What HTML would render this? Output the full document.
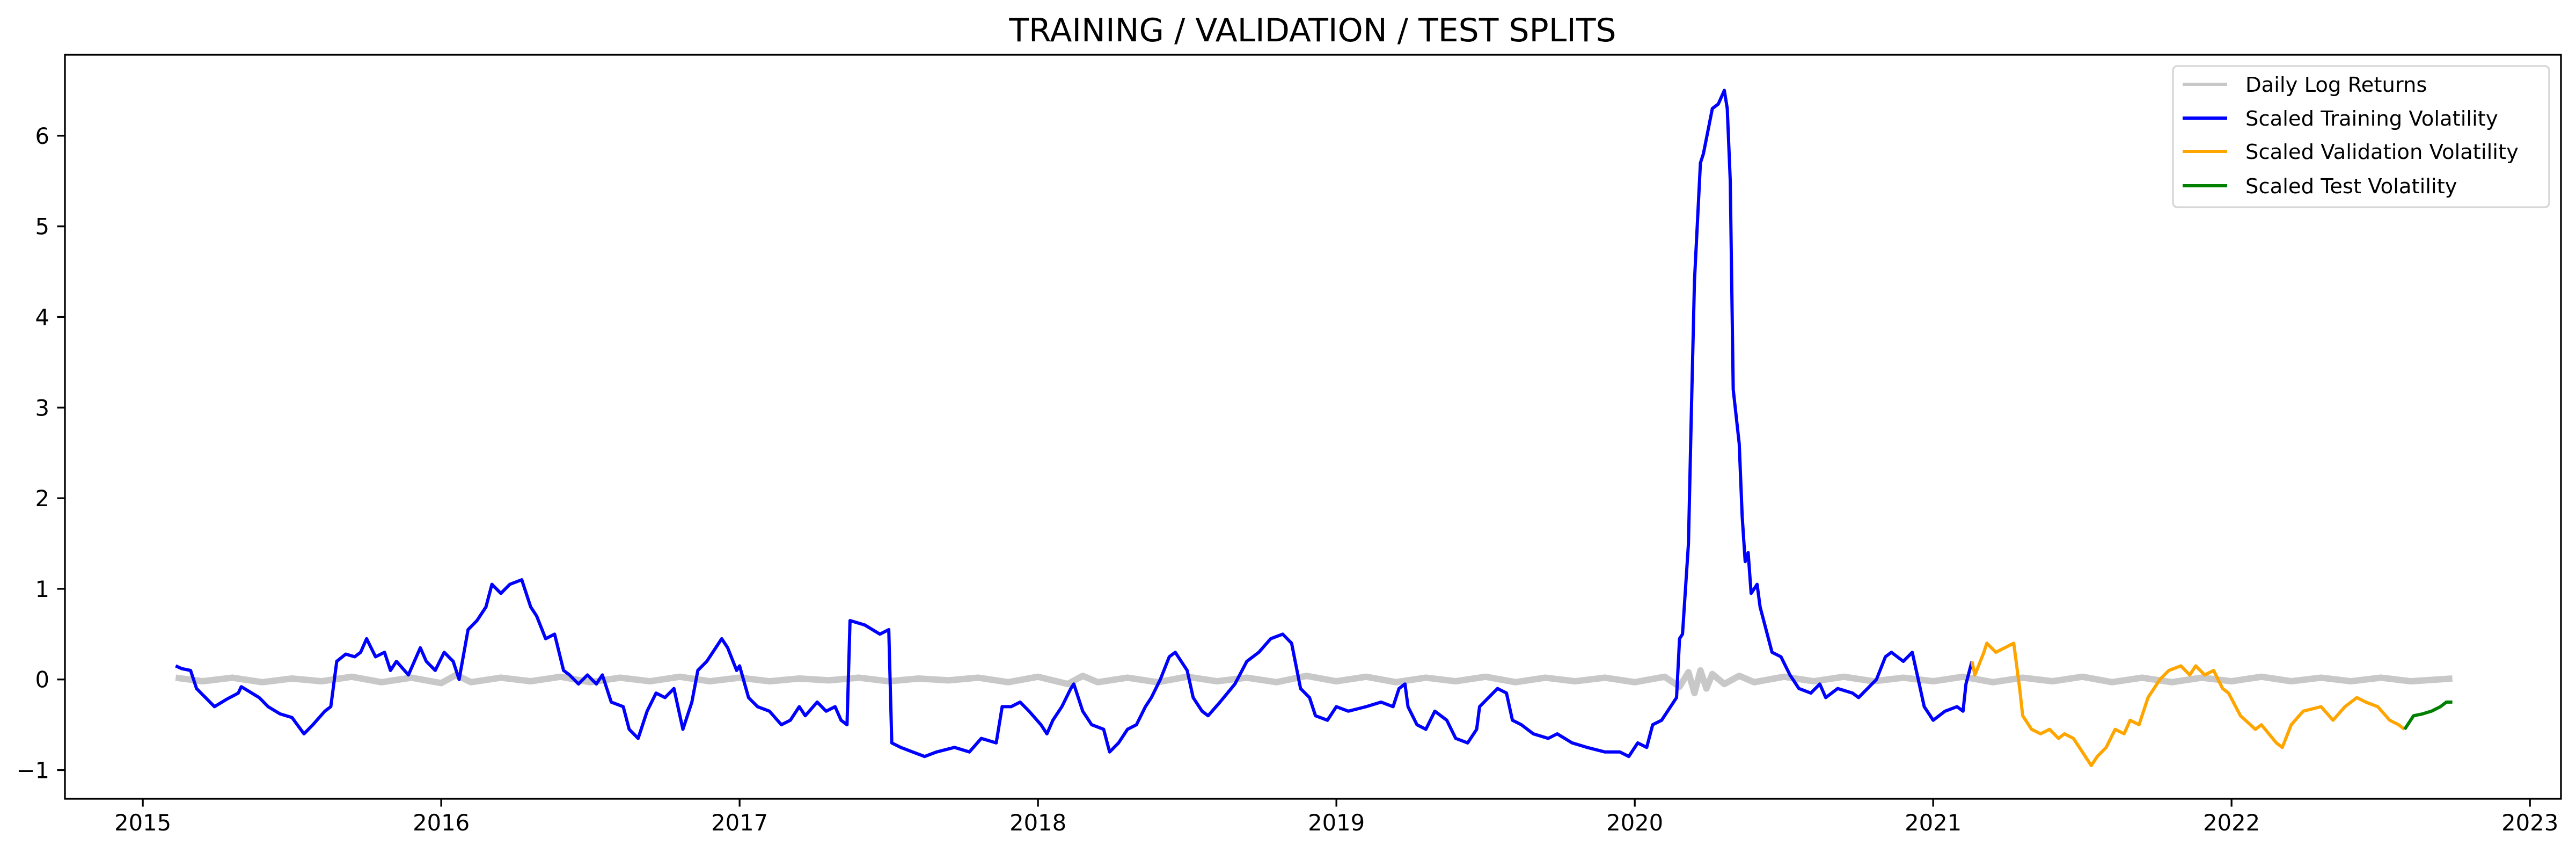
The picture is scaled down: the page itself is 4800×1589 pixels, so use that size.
<!DOCTYPE html>
<html><head><meta charset="utf-8"><style>
html,body{margin:0;padding:0;background:#fff}
svg{display:block}
text{font-family:"DejaVu Sans","Liberation Sans",sans-serif;fill:#000}
</style></head><body>
<svg id="chart" width="4800" height="1589" viewBox="0 0 4800 1589" xmlns="http://www.w3.org/2000/svg">
<rect width="4800" height="1589" fill="#fff"/>
<text x="2446" y="77" font-size="60" text-anchor="middle">TRAINING / VALIDATION / TEST SPLITS</text>
<g id="series"></g>
<g id="axes"></g>
<g id="legend"></g>
</svg>
<script>
const xTicks = [2015,2016,2017,2018,2019,2020,2021,2022,2023];
const xTickLabels = ["2015","2016","2017","2018","2019","2020","2021","2022","2023"];
const yTicks = [-1,0,1,2,3,4,5,6];
const yTickLabels = ["\u22121","0","1","2","3","4","5","6"];

const trainDates = [2015.11,2015.13,2015.16,2015.18,2015.24,2015.28,2015.32,2015.33,2015.39,2015.42,2015.46,2015.50,2015.54,2015.57,2015.61,2015.63,2015.65,2015.68,2015.71,2015.73,2015.75,2015.78,2015.81,2015.83,2015.85,2015.89,2015.93,2015.95,2015.98,2016.01,2016.04,2016.06,2016.09,2016.12,2016.15,2016.17,2016.20,2016.23,2016.27,2016.30,2016.32,2016.35,2016.38,2016.41,2016.43,2016.46,2016.49,2016.52,2016.54,2016.57,2016.61,2016.63,2016.66,2016.69,2016.72,2016.75,2016.78,2016.81,2016.84,2016.86,2016.89,2016.94,2016.96,2016.99,2017.00,2017.03,2017.06,2017.10,2017.14,2017.17,2017.20,2017.22,2017.26,2017.29,2017.32,2017.34,2017.36,2017.37,2017.42,2017.47,2017.50,2017.51,2017.54,2017.58,2017.62,2017.66,2017.72,2017.77,2017.81,2017.86,2017.88,2017.91,2017.94,2017.97,2018.01,2018.03,2018.05,2018.08,2018.11,2018.12,2018.15,2018.18,2018.22,2018.24,2018.27,2018.30,2018.33,2018.36,2018.38,2018.41,2018.44,2018.46,2018.50,2018.52,2018.55,2018.57,2018.61,2018.66,2018.70,2018.74,2018.78,2018.82,2018.85,2018.88,2018.91,2018.93,2018.97,2019.00,2019.04,2019.10,2019.15,2019.19,2019.21,2019.23,2019.24,2019.27,2019.30,2019.33,2019.37,2019.40,2019.44,2019.47,2019.48,2019.51,2019.54,2019.57,2019.59,2019.62,2019.66,2019.71,2019.74,2019.79,2019.84,2019.90,2019.95,2019.98,2020.01,2020.04,2020.06,2020.09,2020.12,2020.14,2020.15,2020.16,2020.18,2020.19,2020.20,2020.22,2020.23,2020.26,2020.28,2020.30,2020.31,2020.32,2020.33,2020.35,2020.36,2020.37,2020.38,2020.39,2020.41,2020.42,2020.44,2020.46,2020.49,2020.52,2020.55,2020.59,2020.62,2020.64,2020.68,2020.73,2020.75,2020.78,2020.81,2020.84,2020.86,2020.90,2020.93,2020.95,2020.97,2021.00,2021.04,2021.08,2021.10,2021.11,2021.13];
const trainValues = [0.15,0.12,0.1,-0.1,-0.3,-0.22,-0.15,-0.08,-0.2,-0.3,-0.38,-0.42,-0.6,-0.5,-0.35,-0.3,0.2,0.28,0.25,0.3,0.45,0.25,0.3,0.1,0.2,0.05,0.35,0.2,0.1,0.3,0.2,0.0,0.55,0.65,0.8,1.05,0.95,1.05,1.1,0.8,0.7,0.45,0.5,0.1,0.05,-0.05,0.05,-0.05,0.05,-0.25,-0.3,-0.55,-0.65,-0.35,-0.15,-0.2,-0.1,-0.55,-0.25,0.1,0.2,0.45,0.35,0.1,0.15,-0.2,-0.3,-0.35,-0.5,-0.45,-0.3,-0.4,-0.25,-0.35,-0.3,-0.45,-0.5,0.65,0.6,0.5,0.55,-0.7,-0.75,-0.8,-0.85,-0.8,-0.75,-0.8,-0.65,-0.7,-0.3,-0.3,-0.25,-0.35,-0.5,-0.6,-0.45,-0.3,-0.1,-0.05,-0.35,-0.5,-0.55,-0.8,-0.7,-0.55,-0.5,-0.3,-0.2,0.0,0.25,0.3,0.1,-0.2,-0.35,-0.4,-0.25,-0.05,0.2,0.3,0.45,0.5,0.4,-0.1,-0.2,-0.4,-0.45,-0.3,-0.35,-0.3,-0.25,-0.3,-0.1,-0.05,-0.3,-0.5,-0.55,-0.35,-0.45,-0.65,-0.7,-0.55,-0.3,-0.2,-0.1,-0.15,-0.45,-0.5,-0.6,-0.65,-0.6,-0.7,-0.75,-0.8,-0.8,-0.85,-0.7,-0.75,-0.5,-0.45,-0.3,-0.2,0.45,0.5,1.5,3.0,4.4,5.7,5.8,6.3,6.35,6.5,6.3,5.5,3.2,2.6,1.8,1.3,1.4,0.95,1.05,0.8,0.55,0.3,0.25,0.05,-0.1,-0.15,-0.05,-0.2,-0.1,-0.15,-0.2,-0.1,0.0,0.25,0.3,0.2,0.3,0.0,-0.3,-0.45,-0.35,-0.3,-0.35,-0.05,0.2];

const valDates = [2021.13,2021.14,2021.17,2021.18,2021.21,2021.24,2021.27,2021.29,2021.30,2021.33,2021.36,2021.39,2021.42,2021.44,2021.47,2021.50,2021.53,2021.55,2021.58,2021.61,2021.64,2021.66,2021.69,2021.72,2021.74,2021.76,2021.79,2021.83,2021.86,2021.88,2021.91,2021.94,2021.97,2021.99,2022.03,2022.08,2022.10,2022.15,2022.17,2022.20,2022.24,2022.30,2022.34,2022.38,2022.42,2022.45,2022.49,2022.53,2022.56,2022.58];
const valValues = [0.2,0.05,0.3,0.4,0.3,0.35,0.4,-0.1,-0.4,-0.55,-0.6,-0.55,-0.65,-0.6,-0.65,-0.8,-0.95,-0.85,-0.75,-0.55,-0.6,-0.45,-0.5,-0.2,-0.1,0.0,0.1,0.15,0.05,0.15,0.05,0.1,-0.1,-0.15,-0.4,-0.55,-0.5,-0.7,-0.75,-0.5,-0.35,-0.3,-0.45,-0.3,-0.2,-0.25,-0.3,-0.45,-0.5,-0.55];

const testDates = [2022.58,2022.61,2022.64,2022.67,2022.70,2022.72,2022.74];
const testValues = [-0.55,-0.4,-0.38,-0.35,-0.3,-0.25,-0.25];

const retDates = [2015.11,2015.2,2015.3,2015.4,2015.5,2015.6,2015.7,2015.8,2015.9,2016.0,2016.05,2016.1,2016.2,2016.3,2016.4,2016.5,2016.6,2016.7,2016.8,2016.9,2017.0,2017.1,2017.2,2017.3,2017.4,2017.5,2017.6,2017.7,2017.8,2017.9,2018.0,2018.1,2018.15,2018.2,2018.3,2018.4,2018.5,2018.6,2018.7,2018.8,2018.9,2019.0,2019.1,2019.2,2019.3,2019.4,2019.5,2019.6,2019.7,2019.8,2019.9,2020.0,2020.1,2020.15,2020.18,2020.2,2020.22,2020.24,2020.26,2020.3,2020.35,2020.4,2020.5,2020.6,2020.7,2020.8,2020.9,2021.0,2021.1,2021.2,2021.3,2021.4,2021.5,2021.6,2021.7,2021.8,2021.9,2022.0,2022.1,2022.2,2022.3,2022.4,2022.5,2022.6,2022.74];
const retValues = [0.02,-0.02,0.02,-0.03,0.01,-0.02,0.03,-0.03,0.02,-0.04,0.05,-0.03,0.02,-0.02,0.03,-0.03,0.02,-0.02,0.03,-0.02,0.02,-0.02,0.01,-0.01,0.02,-0.02,0.01,-0.01,0.02,-0.03,0.03,-0.05,0.04,-0.03,0.02,-0.03,0.03,-0.02,0.02,-0.03,0.04,-0.02,0.03,-0.03,0.02,-0.02,0.03,-0.03,0.02,-0.02,0.02,-0.03,0.03,-0.08,0.08,-0.15,0.1,-0.1,0.06,-0.05,0.04,-0.03,0.03,-0.02,0.03,-0.02,0.02,-0.02,0.03,-0.03,0.02,-0.02,0.03,-0.03,0.02,-0.03,0.02,-0.02,0.03,-0.02,0.02,-0.02,0.02,-0.02,0.01];

const NS = "http://www.w3.org/2000/svg";
const L = 121, R = 4772, T = 102, B = 1488;
const xMin = 2014.739, xMax = 2023.104, yMin = -1.3166, yMax = 6.8935;
function sx(v){ return L + (v - xMin) / (xMax - xMin) * (R - L); }
function sy(v){ return B - (v - yMin) / (yMax - yMin) * (B - T); }
function mk(tag, attrs, parent){
  const e = document.createElementNS(NS, tag);
  for (const k in attrs) e.setAttribute(k, attrs[k]);
  parent.appendChild(e);
  return e;
}
function pathD(xs, ys){
  return xs.map((d,i)=>(i?"L":"M")+sx(d).toFixed(1)+","+sy(ys[i]).toFixed(1)).join("");
}
const sg = document.getElementById("series");
const lines = [
  [retDates, retValues, "#c8c8c8", "daily-log-returns-line", 12],
  [trainDates, trainValues, "#0000ff", "training-volatility-line", 6],
  [valDates, valValues, "#ffa500", "validation-volatility-line", 6],
  [testDates, testValues, "#008000", "test-volatility-line", 6]
];
lines.forEach(s=>{
  const p = mk("path", {d: pathD(s[0], s[1]), fill:"none", stroke:s[2], "stroke-width":s[4], "stroke-linejoin":"round"}, sg);
  
  
});

const ag = document.getElementById("axes");
const frame = mk("rect", {x:L, y:T, width:R-L, height:B-T, fill:"none", stroke:"#000", "stroke-width":3.3}, ag);


xTicks.forEach((t,i)=>{
  const x = sx(t);
  const tk = mk("line", {x1:x, x2:x, y1:B, y2:B+14.6, stroke:"#000", "stroke-width":3.3}, ag);
  
  
  const lb = mk("text", {x:x, y:1547, "font-size":41.7, "text-anchor":"middle"}, ag);
  lb.textContent = xTickLabels[i];
  
  
});
yTicks.forEach((t,i)=>{
  const y = sy(t);
  const tk = mk("line", {x1:L-14.6, x2:L, y1:y, y2:y, stroke:"#000", "stroke-width":3.3}, ag);
  
  
  const lb = mk("text", {x:92, y:y+15, "font-size":41.7, "text-anchor":"end"}, ag);
  lb.textContent = yTickLabels[i];
  
  
});

const lg = document.getElementById("legend");
const box = mk("rect", {x:4049, y:123, width:701, height:263, rx:8, fill:"#fff", "fill-opacity":0.8, stroke:"#d6d6d6", "stroke-width":3.3}, lg);


const legLabels = ["Daily Log Returns","Scaled Training Volatility","Scaled Validation Volatility","Scaled Test Volatility"];
const legColors = ["#c8c8c8","#0000ff","#ffa500","#008000"];
const legY = [157,220,282,346];
legLabels.forEach((txt,i)=>{
  const ln = mk("line", {x1:4067, x2:4150, y1:legY[i], y2:legY[i], stroke:legColors[i], "stroke-width":6}, lg);
  
  
  const t = mk("text", {x:4184, y:legY[i]+14, "font-size":38.5}, lg);
  t.textContent = txt;
  
  
});
</script>
</body></html>
